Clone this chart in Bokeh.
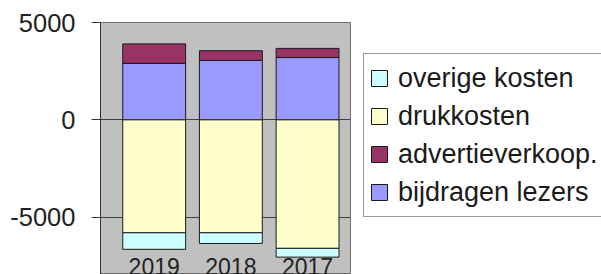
from bokeh.plotting import figure
from bokeh.layouts import row
from bokeh.models import (Range1d, FixedTicker, LinearAxis, Legend, LegendItem,
                          ColumnDataSource)
from bokeh.embed import file_html
from bokeh.resources import INLINE

# ---- data ----
years = ["2019", "2018", "2017"]
bijdragen_lezers = [2900, 3050, 3200]
advertieverkoop = [1000, 500, 470]
drukkosten = [-5800, -5800, -6600]
overige_kosten = [-850, -550, -450]
y_ticks = [-5000, 0, 5000]

series_labels = ["overige kosten", "drukkosten", "advertieverkoop.", "bijdragen lezers"]
series_colors = ["#CCFFFF", "#FFFFCC", "#993366", "#9999FF"]
colors = dict(zip(series_labels, series_colors))

idx = list(range(len(years)))
src = ColumnDataSource(dict(
    x=idx,
    bij=bijdragen_lezers,
    adv=advertieverkoop,
    druk=drukkosten,
    ov=overige_kosten,
))


def draw_bars(fig):
    pos = fig.vbar_stack(["bij", "adv"], x="x", width=0.82, source=src,
                         color=[colors["bijdragen lezers"], colors["advertieverkoop."]],
                         line_color="#1a1a1a", line_width=1)
    neg = fig.vbar_stack(["druk", "ov"], x="x", width=0.82, source=src,
                         color=[colors["drukkosten"], colors["overige kosten"]],
                         line_color="#1a1a1a", line_width=1)
    return {"bijdragen lezers": pos[0], "advertieverkoop.": pos[1],
            "drukkosten": neg[0], "overige kosten": neg[1]}


p = figure(width=351, height=274, output_backend="svg", toolbar_location=None,
           x_range=Range1d(-0.70, 2.56), y_range=Range1d(-7943, 5000),
           min_border_left=100, min_border_right=1, min_border_top=22,
           min_border_bottom=0, x_axis_location=None, y_axis_location=None)
p.background_fill_color = "#C0C0C0"
p.border_fill_color = "white"
p.outline_line_color = "#707070"
p.outline_line_width = 1

draw_bars(p)

# y axis
yax = LinearAxis(ticker=FixedTicker(ticks=y_ticks))
yax.major_label_overrides = {t: str(t) for t in y_ticks}
yax.axis_line_color = "#333333"
yax.major_tick_line_color = "#333333"
yax.major_tick_in = 0
yax.major_tick_out = 9
yax.minor_tick_line_color = None
yax.major_label_standoff = 16
yax.major_label_text_font = "Liberation Sans"
yax.major_label_text_font_size = "25.5px"
yax.major_label_text_color = "#222222"
p.add_layout(yax, "left")

# x axis (category labels inside the gray plot area)
xax = LinearAxis(ticker=FixedTicker(ticks=idx), fixed_location=-7100)
xax.major_label_overrides = {i: y for i, y in zip(idx, years)}
xax.axis_line_color = None
xax.major_tick_line_color = None
xax.minor_tick_line_color = None
xax.major_tick_in = 0
xax.major_tick_out = 0
xax.major_label_standoff = 0
xax.major_label_text_font = "Liberation Sans"
xax.major_label_text_font_size = "23px"
xax.major_label_text_color = "#222222"
p.add_layout(xax, "below")

p.xgrid.visible = False
p.ygrid.ticker = FixedTicker(ticks=y_ticks)
p.ygrid.grid_line_color = "#404040"
p.ygrid.grid_line_width = 1

# legend panel (its bars lie outside its visible range; only the legend shows)
p2 = figure(width=250, height=274, output_backend="svg", toolbar_location=None,
            x_range=Range1d(-30, -29), y_range=Range1d(-30000, -29000),
            min_border_left=0, min_border_right=0, min_border_top=0,
            min_border_bottom=0, x_axis_location=None, y_axis_location=None)
p2.grid.visible = False
p2.outline_line_color = None
p2.background_fill_color = "white"
p2.border_fill_color = "white"

rmap = draw_bars(p2)
items = [LegendItem(label=lab, renderers=[rmap[lab]]) for lab in series_labels]

legend = Legend(items=items, location=(12, 57))
legend.padding = 5
legend.spacing = 0
legend.margin = 0
legend.label_height = 38
legend.label_width = 210
legend.glyph_height = 20
legend.glyph_width = 20
legend.label_standoff = 9
legend.label_text_font = "Liberation Sans"
legend.label_text_font_size = "27px"
legend.label_text_color = "#1a1a1a"
legend.border_line_color = "#333333"
legend.border_line_width = 1
legend.background_fill_color = "white"
legend.background_fill_alpha = 1
p2.add_layout(legend, "center")

layout = row(p, p2, spacing=0)
open("out.html", "w").write(file_html(layout, INLINE))
